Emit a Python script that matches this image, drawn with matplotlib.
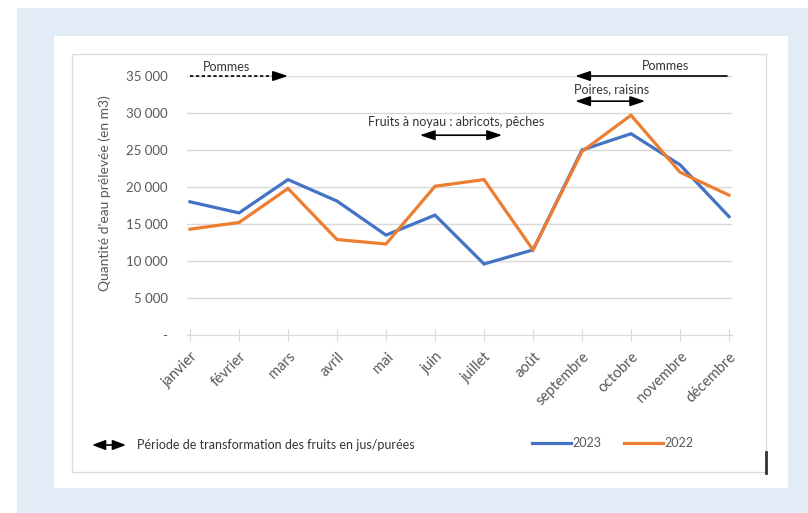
import numpy as np
import matplotlib.pyplot as plt
from matplotlib.patches import Rectangle, FancyArrowPatch
from matplotlib.lines import Line2D

# données
mois = ["janvier", "février", "mars", "avril", "mai", "juin", "juillet",
        "août", "septembre", "octobre", "novembre", "décembre"]
eau_2023 = [18000, 16500, 21000, 18100, 13500, 16200, 9600, 11500,
            25000, 27200, 23000, 16000]
eau_2022 = [14300, 15200, 19800, 12900, 12300, 20100, 21000, 11500,
            24800, 29700, 22000, 18900]
y_ticks = [0, 5000, 10000, 15000, 20000, 25000, 30000, 35000]
y_labels = ["-", "5 000", "10 000", "15 000", "20 000", "25 000", "30 000", "35 000"]

# périodes de transformation (libellé, début, fin, niveau)
pommes_1 = ("Pommes", 0, 2, 35000)
pommes_2 = ("Pommes", 7.86, 10.96, 35000)
poires = ("Poires, raisins", 7.86, 9.29, 31600)
noyau = ("Fruits à noyau : abricots, pêches", 4.69, 6.37, 27000)

BLUE = "#4472c4"
ORANGE = "#ed7d31"
GRID = "#d9d9d9"
TXT = "#595959"

plt.rcParams['font.family'] = ['Lato', 'DejaVu Sans']

W, H = 808, 513
fig = plt.figure(figsize=(W / 100, H / 100), dpi=100)


def fr(x0, y0, x1, y1):
    # rectangle en pixels -> coordonnées figure
    return (x0 / W, 1 - y1 / H), (x1 - x0) / W, (y1 - y0) / H


for (x0, y0, x1, y1), fc, ec in [((17, 8, 808, 513), "#e2ecf6", "none"),
                                  ((54, 36, 788, 488), "white", "none"),
                                  ((72, 54, 766, 472), "white", "#dcdcdc")]:
    xy, w, h = fr(x0, y0, x1, y1)
    fig.patches.append(Rectangle(xy, w, h, transform=fig.transFigure,
                                 facecolor=fc, edgecolor=ec, lw=1, zorder=-10))

# petit trait noir à droite
fig.add_artist(Line2D([766 / W, 766 / W], [1 - 473 / H, 1 - 452 / H],
                      color="#333333", lw=2, transform=fig.transFigure))

pad = 0.06
x_left = 190 - pad * 49
x_right = 729 + pad * 49
ax = fig.add_axes([x_left / W, 1 - 335 / H, (x_right - x_left) / W, (335 - 76) / H])
ax.set_facecolor("none")

x = np.arange(len(mois))
ax.plot(x, eau_2023, color=BLUE, lw=2.3, label="2023", solid_joinstyle="miter")
ax.plot(x, eau_2022, color=ORANGE, lw=2.3, label="2022", solid_joinstyle="miter")

ax.set_xlim(-pad, 11 + pad)
ax.set_ylim(0, 35000)
ax.set_yticks(y_ticks)
ax.set_yticklabels(y_labels)
ax.grid(axis="y", color=GRID, lw=1)
ax.set_axisbelow(True)
ax.tick_params(axis="y", length=0, pad=14, labelsize=9.5, labelcolor=TXT)
ax.set_xticks(x)
ax.set_xticklabels(mois, rotation=45, ha="right", rotation_mode="anchor")
ax.tick_params(axis="x", direction="inout", length=9, color=GRID,
               pad=6, labelsize=10.5, labelcolor=TXT)
for s in ["top", "right", "left"]:
    ax.spines[s].set_visible(False)
ax.spines["bottom"].set_color(GRID)

fig.text(105 / W, 1 - 193 / H, "Quantité d'eau prélevée (en m3)", rotation=90,
         ha="center", va="center", fontsize=10, color=TXT)

arr = dict(color="black", lw=1.2, shrinkA=0, shrinkB=0, mutation_scale=10)
fs_ann = 9

# Pommes (pointillés, vers la droite)
lab, a, b, niv = pommes_1
ax.plot([a, b - 0.2], [niv, niv], color="black", lw=1.2, ls=(0, (2, 1.5)), clip_on=False)
ax.annotate("", xy=(b, niv), xytext=(b - 0.25, niv),
            arrowprops=dict(arrowstyle="-|>,head_length=0.9,head_width=0.3", **arr),
            annotation_clip=False)
ax.annotate(lab, xy=(0.75, niv), xytext=(0, 9), textcoords="offset pixels",
            ha="center", va="center", fontsize=fs_ann, color="#333333", annotation_clip=False)

# Pommes (vers la gauche)
lab, a, b, niv = pommes_2
ax.annotate("", xy=(a, niv), xytext=(b, niv),
            arrowprops=dict(arrowstyle="-|>,head_length=0.9,head_width=0.3", **arr),
            annotation_clip=False)
ax.annotate(lab, xy=(9.7, niv), xytext=(0, 10), textcoords="offset pixels",
            ha="center", va="center", fontsize=fs_ann, color="#333333", annotation_clip=False)

# Poires, raisins
lab, a, b, niv = poires
ax.annotate("", xy=(b, niv), xytext=(a, niv),
            arrowprops=dict(arrowstyle="<|-|>,head_length=0.9,head_width=0.3", **arr),
            annotation_clip=False)
ax.annotate(lab, xy=(a, niv), xytext=(-1, 12), textcoords="offset pixels",
            ha="left", va="center", fontsize=fs_ann, color="#333333", annotation_clip=False)

# Fruits à noyau
lab, a, b, niv = noyau
ax.annotate("", xy=(b, niv), xytext=(a, niv),
            arrowprops=dict(arrowstyle="<|-|>,head_length=0.9,head_width=0.3", **arr),
            annotation_clip=False)
ax.annotate(lab, xy=(5.43, niv), xytext=(0, 13), textcoords="offset pixels",
            ha="center", va="center", fontsize=fs_ann, color="#333333", annotation_clip=False)

# légende du bas
fig.patches.append(FancyArrowPatch(
    (92 / W, 1 - 445 / H), (126 / W, 1 - 445 / H), transform=fig.transFigure,
    arrowstyle="<|-|>,head_length=0.8,head_width=0.3", color="black", lw=1.2,
    mutation_scale=10, shrinkA=0, shrinkB=0))
fig.text(137 / W, 1 - 445 / H, "Période de transformation des fruits en jus/purées",
         ha="left", va="center", fontsize=9, color="#333333")

fig.legend(loc="center left", bbox_to_anchor=(532 / W, 1 - 443 / H), ncol=2,
           frameon=False, fontsize=9, labelcolor=TXT, handlelength=3.1,
           handletextpad=0.15, columnspacing=1.8, borderaxespad=0, borderpad=0)

fig.savefig("out.png", dpi=100)
